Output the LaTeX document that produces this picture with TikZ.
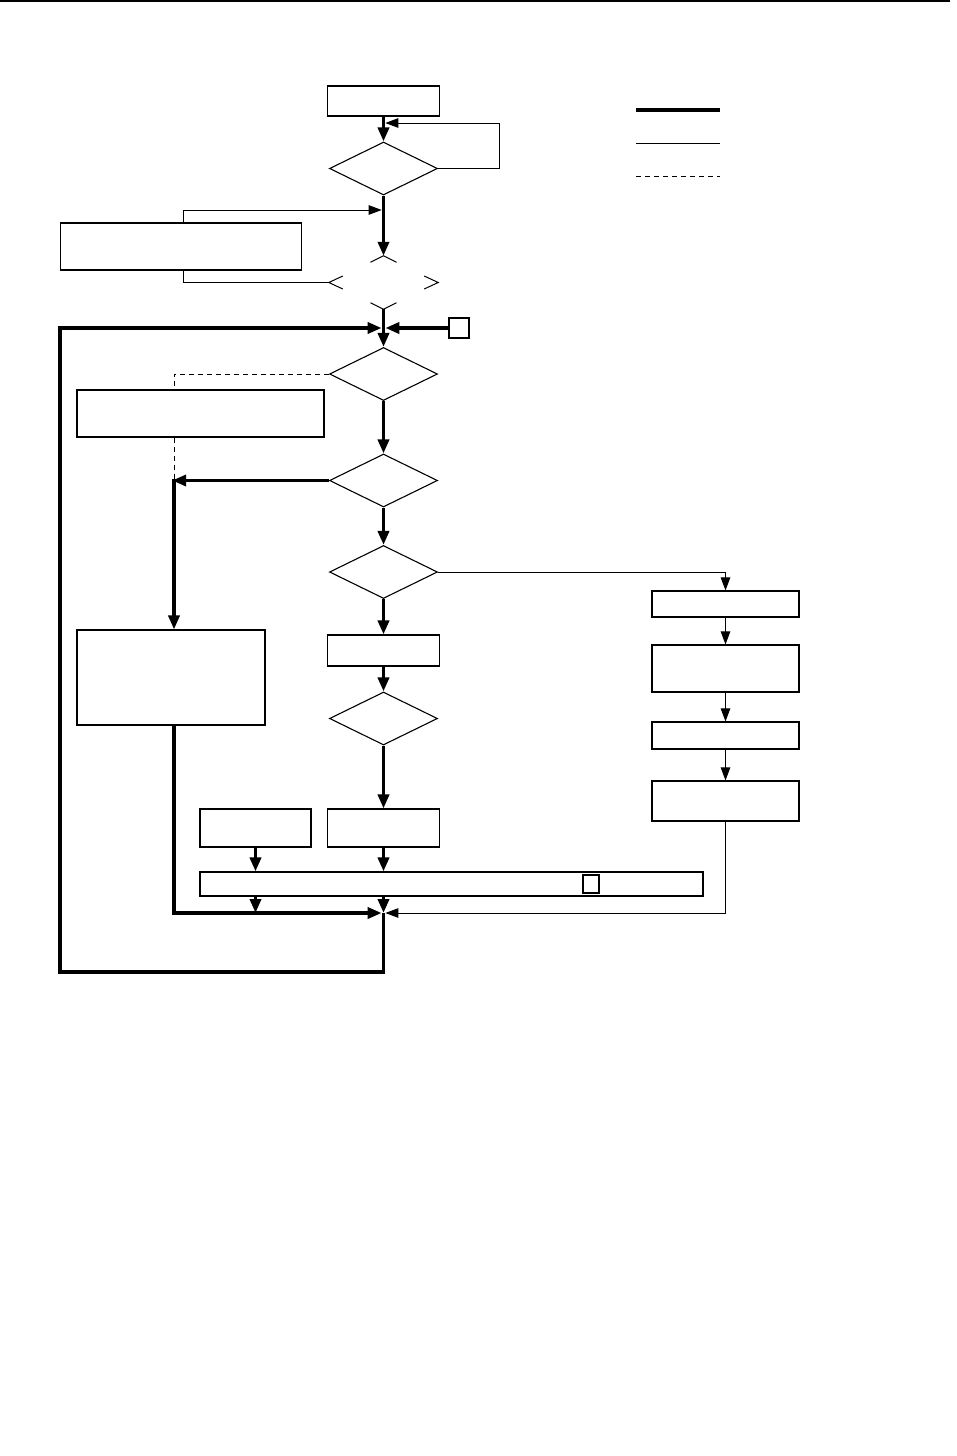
\documentclass[tikz,border=0pt]{standalone}
\usetikzlibrary{arrows.meta,shapes.geometric,calc}
\begin{document}
\begin{tikzpicture}[x=1pt,y=-1pt,
  box/.style={draw,rectangle,line width=1.1pt,inner sep=0pt,minimum width=#1},
  dia/.style={draw,diamond,line width=1.1pt,inner sep=0pt,minimum width=108pt,minimum height=53pt},
  heavy/.style={line width=3.7pt},
  light/.style={line width=1pt},
  dashline/.style={line width=1pt,dash pattern=on 5pt off 4pt},
  harr/.style={heavy,-{Triangle[length=14pt,width=11pt]}},
  larr/.style={light,-{Triangle[length=13pt,width=9.5pt]}}]
\useasboundingbox (0,0) rectangle (957,1456);
% top rule
\draw[line width=2.2pt] (0,1.1) -- (950,1.1);
% legend
\coordinate (lg1a) at (636,110); \coordinate (lg1b) at (720,110);
\coordinate (lg2a) at (636,143); \coordinate (lg2b) at (720,143);
\coordinate (lg3a) at (636,176); \coordinate (lg3b) at (720,176);
\draw[line width=3.8pt] (lg1a) -- (lg1b);
\draw[light] (lg2a) -- (lg2b);
\draw[dashline] (lg3a) -- (lg3b);
% nodes
\node[box=112pt,minimum height=30pt] (s) at (383.5,101) {};
\node[dia] (d1) at (383.5,168.5) {};
\node[box=241pt,minimum height=47pt] (a) at (181,246.5) {};
\node[diamond,inner sep=0pt,minimum width=109pt,minimum height=53pt] (d2) at (383.5,282.5) {};
\node[box=20pt,minimum height=20pt] (sq1) at (459,328) {};
\node[dia] (d3) at (383.5,374) {};
\node[box=247pt,minimum height=47pt] (b) at (200.5,413.5) {};
\node[dia] (d4) at (383.5,480.5) {};
\node[box=188pt,minimum height=95pt] (c) at (171,677.5) {};
\node[dia] (d5) at (383.5,572) {};
\node[box=147pt,minimum height=26pt] (bd) at (725.5,604) {};
\node[box=147pt,minimum height=47pt] (be) at (725.5,668.5) {};
\node[box=147pt,minimum height=27pt] (bf) at (725.5,735.5) {};
\node[box=147pt,minimum height=40pt] (bg) at (725.5,801) {};
\node[box=112pt,minimum height=31pt] (bh) at (383.5,650.5) {};
\node[dia] (d6) at (383.5,718.5) {};
\node[box=112pt,minimum height=38pt] (bi) at (383.5,828) {};
\node[box=111pt,minimum height=38pt] (bj) at (255.5,828) {};
\node[box=503pt,minimum height=24pt] (bk) at (451.5,884) {};
\node[box=16pt,minimum height=18pt] (sq2) at (591,884) {};
% broken diamond d2
\draw[light] ($(d2.west)+(14,-6.5)$) -- (d2.west) -- ++(14,6.5);
\draw[light] ($(d2.east)+(-14,-6.5)$) -- (d2.east) -- ++(-14,6.5);
\draw[light] ($(d2.north)+(-13,6.5)$) -- (d2.north) -- ++(13,6.5);
\draw[light] ($(d2.south)+(-13,-6.5)$) -- (d2.south) -- ++(13,-6.5);
% coordinates
\coordinate (j1) at (383.5,328);
\coordinate (j2) at (383.5,913);
\coordinate (loopR) at (499,123);
\coordinate (l1) at (385.3,123);
\coordinate (m1) at (381.7,210);
\coordinate (aTop) at (183,210);
\coordinate (aBot) at (183,282.5);
\coordinate (k1) at (174,480.5);
\coordinate (dashTop) at (174,374);
\coordinate (botL) at (60,972);
\coordinate (botR) at (383.5,972);
\coordinate (topL) at (60,328);
% connectors
\draw[harr] (s.south) -- (d1.north);
\draw[larr] (d1.east) -- (d1.east -| loopR) -- (loopR) -- (l1);
\draw[harr] (d1.south) -- (d2.north);
\draw[larr] (a.north -| aTop) -- (aTop) -- (m1);
\draw[light] (a.south -| aBot) -- (aBot) -- (d2.west);
\draw[heavy] (d2.south) -- (j1);
\draw[harr] (sq1.west) -- ($(j1)+(1.85,0)$);
\draw[harr] (j2) -- (botR) -- (botL) -- (topL) -- ($(j1)+(-1.85,0)$);
\draw[harr] (j1) -- (d3.north);
\draw[dashline] (d3.west) -- (dashTop) -- (b.north -| dashTop);
\draw[dashline] (b.south -| dashTop) -- (k1);
\draw[harr] (d3.south) -- (d4.north);
\draw[harr] (d4.west) -- ($(k1)+(-1.85,0)$);
\draw[harr] ($(k1)+(0,-1.85)$) -- (c.north -| k1);
\draw[harr] (d4.south) -- (d5.north);
\draw[larr] (d5.east) -| (bd.north);
\draw[larr] (bd.south) -- (be.north);
\draw[larr] (be.south) -- (bf.north);
\draw[larr] (bf.south) -- (bg.north);
\draw[larr] (bg.south) |- ($(j2)+(1.85,0)$);
\draw[harr] (d5.south) -- (bh.north);
\draw[harr] (bh.south) -- (d6.north);
\draw[harr] (d6.south) -- (bi.north);
\draw[harr] (bi.south) -- (bk.north -| bi.south);
\draw[harr] (bj.south) -- (bk.north -| bj.south);
\draw[harr] (bk.south -| j2) -- (j2);
\draw[harr] (bk.south -| bj.south) -- (j2 -| bj.south);
\draw[harr] (c.south -| k1) |- ($(j2)+(-1.85,0)$);
\end{tikzpicture}
\end{document}
